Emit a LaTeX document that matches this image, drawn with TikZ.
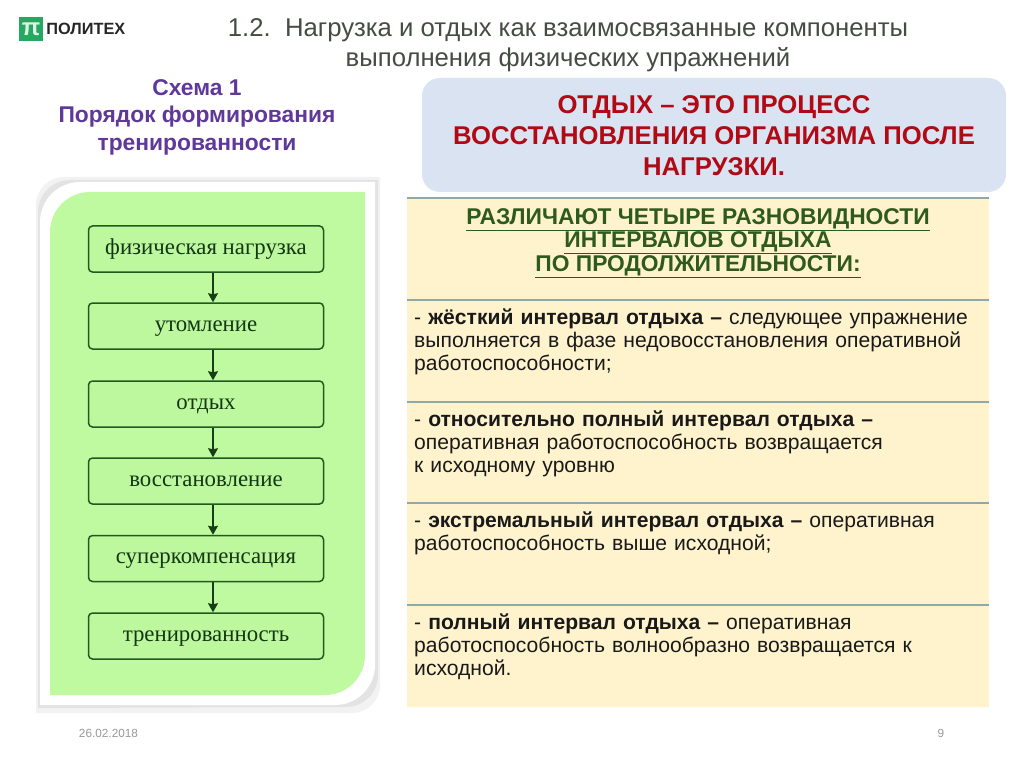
\documentclass[tikz,border=0pt]{standalone}
\usepackage{fontspec}
\setmainfont{Liberation Sans}
\newfontfamily\bookfont{Liberation Serif}
\usepackage{xcolor}
\usetikzlibrary{positioning, arrows.meta, calc}
\definecolor{panelgreen}{HTML}{C0FAA0}
\definecolor{boxgreen}{HTML}{BDF79E}
\definecolor{edgegreen}{HTML}{1F5A1F}
\definecolor{titlegray}{HTML}{444C44}
\definecolor{schemeviolet}{HTML}{60389A}
\definecolor{calloutblue}{HTML}{D9E3F2}
\definecolor{alertred}{HTML}{B00A14}
\definecolor{bandyellow}{HTML}{FFF3CE}
\definecolor{ruleblue}{HTML}{8FA9A8}
\definecolor{headgreen}{HTML}{2F5A1E}
\definecolor{logogreen}{HTML}{25A85F}
\begin{document}
\begin{tikzpicture}[
    x=1pt, y=-1pt,
    >={Stealth[length=9pt, width=10pt, inset=1pt]},
    stepbox/.style={draw=edgegreen, line width=1.5pt, rounded corners=4pt, fill=boxgreen,
        minimum width=235pt, minimum height=46pt, inner sep=0pt, text=edgegreen!60!black,
        text height=10pt, text depth=0pt, font=\bookfont\fontsize{22.8}{24}\selectfont},
    stepline/.style={->, edgegreen!70!black, line width=1.3pt},
    band/.style={anchor=north west, text width=570pt, align=left, inner sep=0pt, text=black!90,
        font=\fontsize{21.1}{23}\selectfont},
    rulerow/.style={draw=ruleblue, line width=1.3pt}
]
    \useasboundingbox (0,0) rectangle (1024,767);
    \fill[white] (0,0) rectangle (1024,767);

    % Logo and heading
    \node[fill=logogreen, minimum size=24pt, inner sep=0pt, text=white!85!logogreen,
        font=\bfseries\fontsize{24}{24}\selectfont] (logo) at (31, 29) {π};
    \node[right=3pt of logo, inner sep=0pt, text=black!85, font=\bfseries\fontsize{16.3}{18}\selectfont] (brand) {ПОЛИТЕХ};
    \node[align=center, text=titlegray, inner sep=0pt, font=\fontsize{25.7}{30.5}\selectfont] (title) at (568, 45)
        {1.2.\ \ Нагрузка и отдых как взаимосвязанные компоненты\\выполнения физических упражнений};

    % Scheme caption
    \node[align=center, text=schemeviolet, inner sep=0pt, font=\bfseries\fontsize{22.8}{27.5}\selectfont] (caption) at (197, 117)
        {Схема 1\\Порядок формирования\\тренированности};

    % Frame with shadow and green panel
    \fill[black!5] (36,205) arc[start angle=180, end angle=270, radius=28] -- (380,177) -- (380,685)
        arc[start angle=0, end angle=90, radius=28] -- (36,713) -- cycle;
    \fill[black!11] (38,212) arc[start angle=180, end angle=270, radius=32] -- (378,180) -- (378,675)
        arc[start angle=0, end angle=90, radius=32] -- (38,708) -- cycle;
    \fill[white] (40,222) arc[start angle=180, end angle=270, radius=40] -- (375,182) -- (375,665)
        arc[start angle=0, end angle=90, radius=40] -- (40,705) -- cycle;
    \fill[panelgreen] (50,232) arc[start angle=180, end angle=270, radius=40] -- (365,192) -- (365,655)
        arc[start angle=0, end angle=90, radius=40] -- (50,695) -- cycle;

    % Steps
    \node[stepbox] (load) at (206, 249) {физическая нагрузка};
    \node[stepbox] (fatigue) at (206, 326) {утомление};
    \node[stepbox] (rest) at (206, 404) {отдых};
    \node[stepbox] (recovery) at (206, 481) {восстановление};
    \node[stepbox] (supercomp) at (206, 558.5) {суперкомпенсация};
    \node[stepbox] (fitness) at (206, 636) {тренированность};

    \draw[stepline] ([xshift=7pt]load.south) -- ([xshift=7pt]fatigue.north);
    \draw[stepline] ([xshift=7pt]fatigue.south) -- ([xshift=7pt]rest.north);
    \draw[stepline] ([xshift=7pt]rest.south) -- ([xshift=7pt]recovery.north);
    \draw[stepline] ([xshift=7pt]recovery.south) -- ([xshift=7pt]supercomp.north);
    \draw[stepline] ([xshift=7pt]supercomp.south) -- ([xshift=7pt]fitness.north);

    % Definition callout
    \node[fill=calloutblue, rounded corners=18pt, minimum width=584pt, minimum height=114pt, inner sep=0pt] (definition) at (714, 135) {};
    \node[align=center, inner sep=0pt, text=alertred, font=\bfseries\fontsize{25.7}{31}\selectfont] (definitiontext) at (714, 136)
        {ОТДЫХ – ЭТО ПРОЦЕСС\\ВОССТАНОВЛЕНИЯ ОРГАНИЗМА ПОСЛЕ\\НАГРУЗКИ.};

    % Table of intervals
    \fill[bandyellow] (407,198) rectangle (989,707);
    \draw[rulerow] (407,198) -- (989,198);
    \draw[rulerow] (407,300) -- (989,300);
    \draw[rulerow] (407,402) -- (989,402);
    \draw[rulerow] (407,503) -- (989,503);
    \draw[rulerow] (407,605) -- (989,605);

    \node[align=center, inner sep=0pt, text=headgreen, font=\bfseries\fontsize{22.8}{23.5}\selectfont] (head) at (698, 243)
        {\underline{РАЗЛИЧАЮТ ЧЕТЫРЕ РАЗНОВИДНОСТИ}\\\underline{ИНТЕРВАЛОВ ОТДЫХА}\\\underline{ПО ПРОДОЛЖИТЕЛЬНОСТИ:}};
    \node[band] (hard) at (414, 308.5) {- \textbf{жёсткий интервал отдыха –} следующее упражнение\\выполняется в фазе недовосстановления оперативной\\работоспособности;};
    \node[band] (partial) at (414, 411) {- \textbf{относительно полный интервал отдыха –}\\оперативная работоспособность возвращается\\к исходному уровню};
    \node[band] (extreme) at (414, 512) {- \textbf{экстремальный интервал отдыха –} оперативная\\работоспособность выше исходной;};
    \node[band] (full) at (414, 614) {- \textbf{полный интервал отдыха –} оперативная\\работоспособность волнообразно возвращается к\\исходной.};

    % Footer
    \node[inner sep=0pt, text=black!40, font=\fontsize{11.8}{13}\selectfont] (date) at (108.5, 733) {26.02.2018};
    \node[inner sep=0pt, text=black!40, font=\fontsize{11.8}{13}\selectfont] (page) at (941, 733) {9};
\end{tikzpicture}
\end{document}
